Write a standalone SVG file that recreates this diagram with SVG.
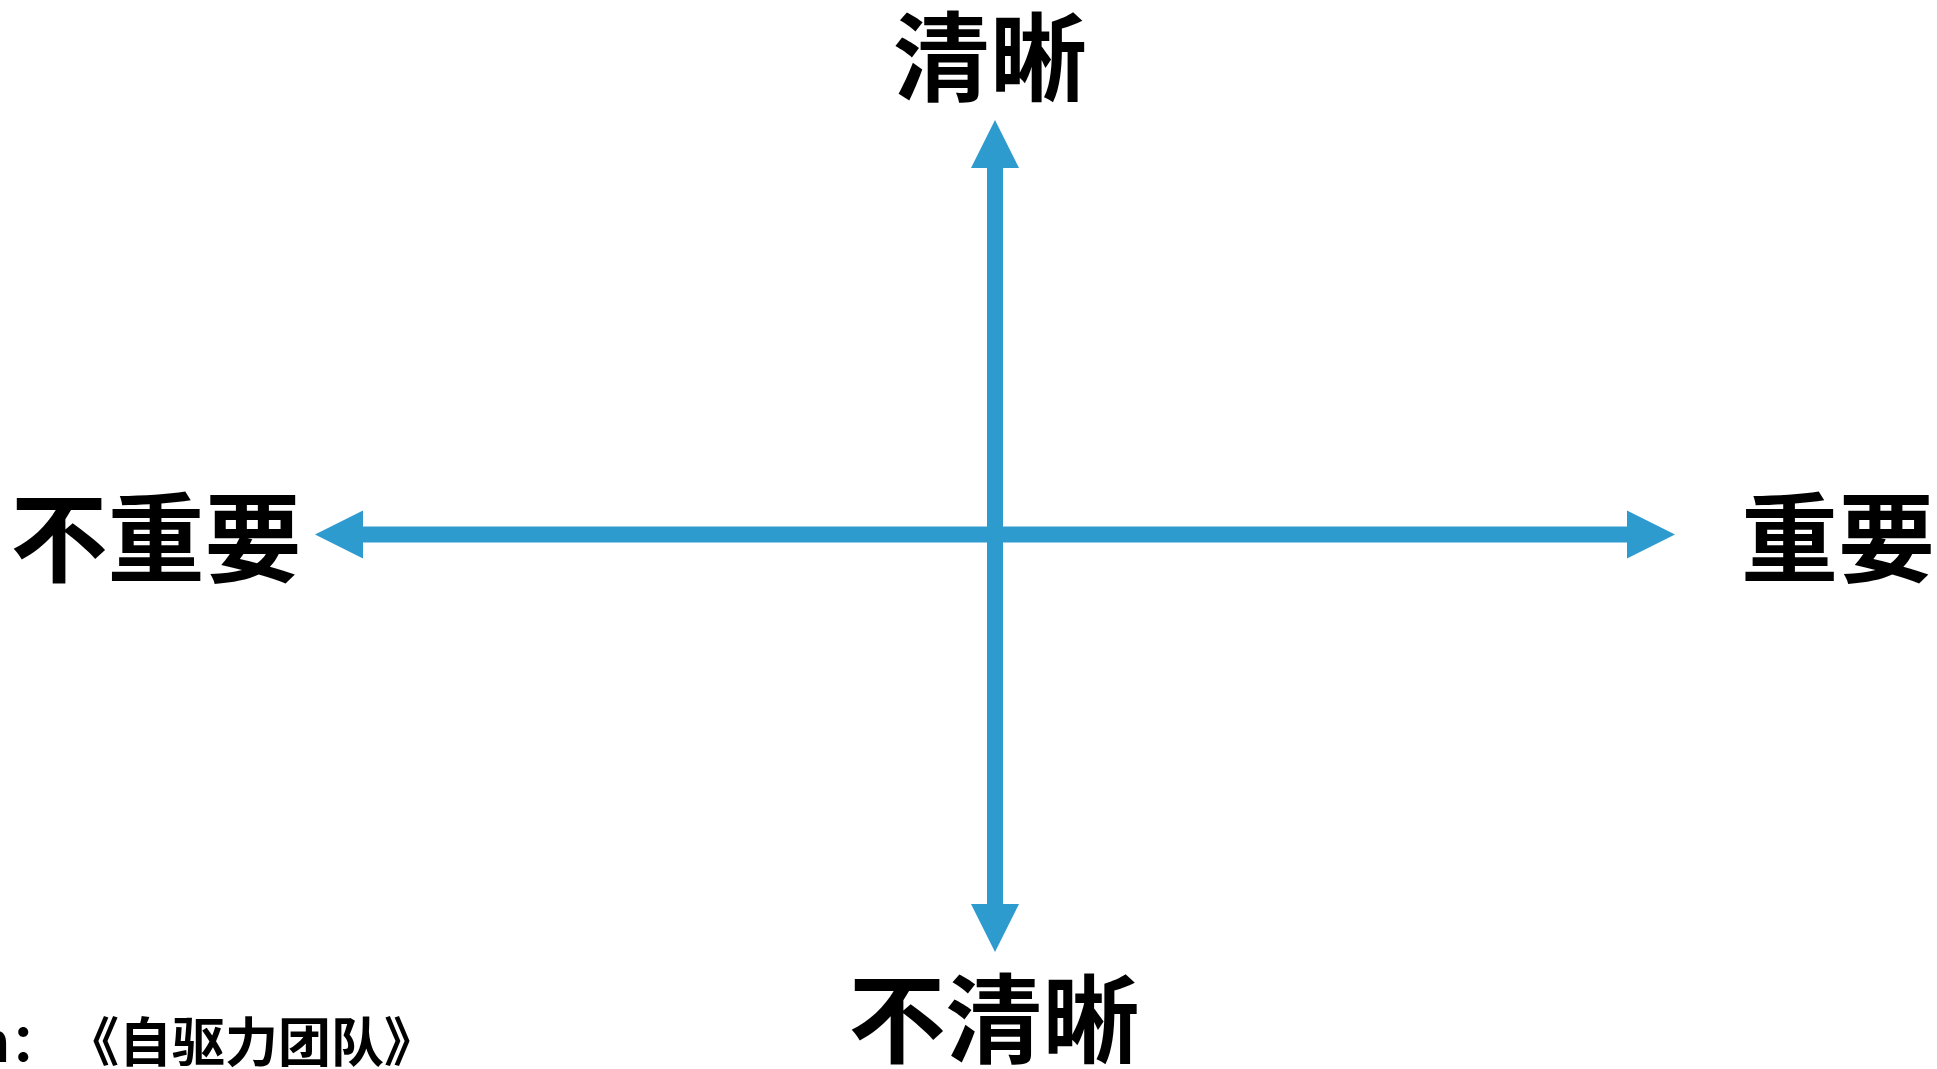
<svg xmlns="http://www.w3.org/2000/svg" width="1937" height="1069" viewBox="0 0 1937 1069">
  <style>
    .lbl { font-family: "Noto Sans CJK SC", "Noto Sans", sans-serif; font-weight: bold; font-size: 97px; fill: #000; text-anchor: middle; }
    .src { font-family: "Noto Sans CJK SC", "Noto Sans", sans-serif; font-weight: bold; font-size: 53px; fill: #000; }
    .axis { stroke: #2E9BCF; stroke-width: 16; fill: none; }
    .head { fill: #2E9BCF; }
  </style>
  <rect width="1937" height="1069" fill="#fff"/>
  <g id="connectors">
    <line class="axis" x1="995" y1="166" x2="995" y2="905"/>
    <polygon class="head" points="995,120 971,168 1019,168"/>
    <polygon class="head" points="995,952 971,904 1019,904"/>
    <line class="axis" x1="361" y1="534.5" x2="1629" y2="534.5"/>
    <polygon class="head" points="315,534.5 363,510.5 363,558.5"/>
    <polygon class="head" points="1675,534.5 1627,510.5 1627,558.5"/>
  </g>
  <g id="node-top"><text class="lbl" x="990" y="93">清晰</text></g>
  <g id="node-bottom"><text class="lbl" x="994" y="1055">不清晰</text></g>
  <g id="node-left"><text class="lbl" x="156" y="574">不重要</text></g>
  <g id="node-right"><text class="lbl" x="1838" y="574">重要</text></g>
  <g id="source">
    <text class="src" x="-24" y="1062">h：</text>
    <text class="src" x="437" y="1062" text-anchor="end">《自驱力团队》</text>
  </g>
</svg>
